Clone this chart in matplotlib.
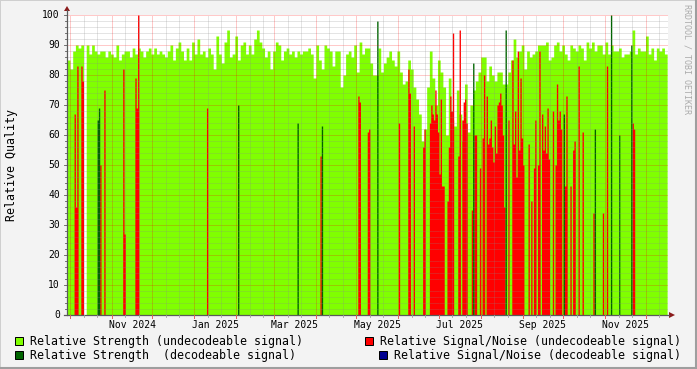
import numpy as np
import matplotlib
matplotlib.use("Agg")
import matplotlib.pyplot as plt
from matplotlib.lines import Line2D
from matplotlib.patches import Rectangle, Polygon

# ---------------------------------------------------------------- data ----
START = np.datetime64("2024-09-29")          # day 0 of the series

# relative strength, undecodeable signal: one value per 2-day bin (0 = no data)
strength = [
    85, 82, 88, 90, 89, 90, 0, 90, 87, 90, 88, 87, 88, 88, 86, 88, 87, 86, 90, 85,
    87, 88, 88, 86, 89, 87, 89, 88, 86, 88, 89, 87, 89, 87, 88, 87, 86,
    88, 90, 85, 89, 91, 88, 85, 89, 85, 91, 87, 92, 87, 88, 86, 89, 87, 82, 93, 87,
    84, 91, 95, 86, 87, 93, 85, 90, 91, 87, 90, 87, 92, 95, 91, 89, 86,
    88, 82, 88, 91, 90, 85, 88, 89, 87, 88, 86, 88, 87, 88, 88, 89, 87, 79, 90, 85,
    82, 90, 89, 88, 83, 88, 88, 76, 80, 87, 88, 86, 90, 81, 91, 87, 89,
    89, 84, 80, 80, 89, 81, 84, 86, 88, 85, 83, 88, 81, 77, 78, 85, 82, 76, 72, 67,
    58, 62, 76, 88, 79, 70, 85, 81, 76, 60, 79, 65, 63, 75, 67, 58, 77,
    61, 70, 75, 78, 81, 86, 86, 78, 83, 80, 78, 81, 81, 77, 77, 81, 85, 92, 86, 88,
    90, 82, 88, 86, 87, 88, 90, 90, 90, 91, 85, 86, 90, 91, 88, 90, 87,
    85, 90, 89, 88, 90, 89, 85, 91, 89, 91, 88, 90, 90, 87, 91, 87, 90, 88, 88, 89,
    86, 87, 87, 88, 95, 87, 89, 88, 88, 93, 87, 89, 85, 89, 88, 89, 87,
]

# relative signal/noise, undecodeable signal: (day, value)
snr_days = [5, 6, 7, 10, 11, 24, 27, 41, 42, 50, 51, 52, 103, 187, 215, 216, 222, 223,
            245, 252, 253, 256, 263, 264, 268, 269, 270, 271, 272, 273, 274, 275, 276,
            277, 278, 281, 282, 283, 284, 285, 289, 290, 292, 293, 294, 295, 299, 301,
            302, 305, 307, 308, 310, 311, 312, 313, 314, 315, 316, 317, 318, 319, 320,
            321, 322, 323, 326, 329, 330, 331, 332, 333, 334, 335, 336, 337, 341, 343,
            345, 346, 348, 349, 351, 352, 353, 354, 355, 356, 359, 361, 362, 363, 364,
            365, 368, 369, 372, 374, 375, 378, 381, 389, 396, 399, 418, 419]
snr_vals = [67, 36, 83, 83, 78, 50, 75, 82, 27, 79, 69, 100, 69, 53, 73, 71, 61, 62,
            64, 82, 74, 63, 56, 62, 64, 70, 67, 65, 75, 67, 61, 47, 72,
            43, 43, 38, 56, 73, 68, 94, 53, 95, 65, 71, 72, 64, 35, 60,
            60, 49, 59, 80, 73, 57, 59, 65, 56, 51, 63, 54, 70, 71, 74,
            70, 60, 36, 65, 85, 57, 68, 46, 88, 55, 79, 59, 50, 57, 38,
            49, 65, 50, 88, 67, 55, 63, 54, 69, 52, 68, 50, 77, 65, 68,
            62, 43, 73, 43, 55, 58, 83, 61, 34, 34, 83, 64, 62]

# relative strength, decodeable signal: (day, value)
dec_days = [22, 23, 126, 170, 188, 229, 300, 324, 367, 390, 402, 408, 417]
dec_vals = [65, 69, 70, 64, 63, 98, 84, 95, 67, 62, 100, 60, 90]

# relative signal/noise, decodeable signal: none in this period
dsnr_days, dsnr_vals = [], []

legend_items = [
    ("Relative Strength (undecodeable signal)", "#80FF00"),
    ("Relative Strength  (decodeable signal)", "#006400"),
    ("Relative Signal/Noise (undecodeable signal)", "#FF0000"),
    ("Relative Signal/Noise (decodeable signal)", "#000090"),
]

# ------------------------------------------------------------- layout ----
W, H = 697, 369
PX_DAY = 1.351                        # pixels per day
X0 = 67.3                             # pixel x of day 0
N_DAYS = 2 * len(strength)
fig = plt.figure(figsize=(W / 100, H / 100), dpi=100, facecolor="#F3F3F3")
MONO = "DejaVu Sans Mono"


def fx(x):
    return x / W


def fy(y):
    return 1 - y / H


def daily(days, vals):
    a = np.zeros(N_DAYS + 1)
    a[np.asarray(days, dtype=int)] = vals
    return a


ax = fig.add_axes([fx(67), fy(315), (668 - 67) / W, 300 / H])
ax.set_facecolor("white")
for s in ax.spines.values():
    s.set_visible(False)
ax.set_xlim((67 - X0) / PX_DAY, (668 - X0) / PX_DAY)
ax.set_ylim(0, 100)
ax.set_xticks([])
ax.set_yticks([])

# areas as step fills (no seams between columns)
days = np.arange(N_DAYS + 1)
g = np.append(np.repeat(strength, 2), 0)
ax.fill_between(days, 0, g, step="post", color="#80FF00", lw=0, antialiased=False, zorder=2)
ax.fill_between(days, 0, daily(snr_days, snr_vals), step="post", color="#FF0000", lw=0,
                antialiased=False, zorder=3)
ax.fill_between(days, 0, daily(dec_days, dec_vals), step="post", color="#006400", lw=0,
                antialiased=False, zorder=4)
if dsnr_days:
    ax.fill_between(days, 0, daily(dsnr_days, dsnr_vals), step="post", color="#000090",
                    lw=0, antialiased=False, zorder=4)

# grid (drawn on top, rrdtool style)
minor_c = (0.55, 0.55, 0.55, 0.45)
major_c = (1.0, 0.0, 0.0, 0.42)
for v in range(2, 100, 2):
    c = major_c if v % 10 == 0 else minor_c
    ax.axhline(v, color=c, lw=0.72, dashes=(1, 1), zorder=6)
ax.axhline(100, color=major_c, lw=0.72, dashes=(1, 1), zorder=6)

month_starts = []
for y, m in [(2024, 10), (2024, 11), (2024, 12)] + [(2025, k) for k in range(1, 13)]:
    d0 = int((np.datetime64(f"{y}-{m:02d}-01") - START).astype(int))
    month_starts.append(d0)
    ax.axvline(d0, color=major_c, lw=0.72, dashes=(1, 1), zorder=6)
    for off in (10, 20):
        ax.axvline(d0 + off, color=minor_c, lw=0.72, dashes=(1, 1), zorder=6)

# month labels, centred in the month
labels = [("Nov 2024", "2024-11"), ("Jan 2025", "2025-01"), ("Mar 2025", "2025-03"),
          ("May 2025", "2025-05"), ("Jul 2025", "2025-07"), ("Sep 2025", "2025-09"),
          ("Nov 2025", "2025-11")]
for txt, ym in labels:
    a = np.datetime64(ym + "-01")
    b = (np.datetime64(ym, "M") + 1).astype("datetime64[D]")
    mid = (a - START).astype(int) + (b - a).astype(int) / 2
    ax.text(mid, -3.3, txt, ha="center", va="center", fontsize=7, family=MONO,
            clip_on=False)

# y labels
for v in range(0, 101, 10):
    ax.text(-0.012, v, str(v), ha="right", va="center", fontsize=7, family=MONO,
            transform=ax.get_yaxis_transform())

# axes lines, ticks and arrows in pixel space
axis_c = "#5A5A5A"
arrow_c = "#8B1A1A"
fig.add_artist(Line2D([fx(67), fx(67)], [fy(315), fy(10)], color=axis_c, lw=0.9))
fig.add_artist(Line2D([fx(64), fx(669)], [fy(315), fy(315)], color=axis_c, lw=0.9))
fig.add_artist(Polygon([[fx(64), fy(11)], [fx(70), fy(11)], [fx(67), fy(6)]],
                       closed=True, color=arrow_c, lw=0))
fig.add_artist(Polygon([[fx(669), fy(312)], [fx(669), fy(318)], [fx(675), fy(315)]],
                       closed=True, color=arrow_c, lw=0))
for v in range(0, 101, 2):
    y = 315 - 3 * v
    ln = 3 if v % 10 == 0 else 2
    fig.add_artist(Line2D([fx(67 - ln), fx(67)], [fy(y), fy(y)], color=axis_c, lw=0.6))
for d0 in month_starts:
    x = X0 + d0 * PX_DAY
    if x < 668:
        fig.add_artist(Line2D([fx(x), fx(x)], [fy(315), fy(318)], color="#E06060", lw=0.7))
        for off in (10, 20):
            xm = X0 + (d0 + off) * PX_DAY
            if xm < 668:
                fig.add_artist(Line2D([fx(xm), fx(xm)], [fy(315), fy(317)],
                                      color="#A0A0A0", lw=0.6))

# titles / watermark
fig.text(fx(12), fy(165), "Relative Quality", rotation=90, ha="center", va="center",
         fontsize=8.4, family=MONO)
fig.text(fx(687), fy(4), "RRDTOOL / TOBI OETIKER", rotation=270, ha="center", va="top",
         fontsize=6, family=MONO, color="#ABABAB")

# legend
pos = [(15, 341, 30), (15, 355, 30), (365, 341, 380), (379, 355, 394)]
for (label, col), (sx, sy, tx) in zip(legend_items, pos):
    fig.add_artist(Rectangle((fx(sx), fy(sy + 4)), 8 / W, 8 / H, facecolor=col,
                             edgecolor="black", lw=0.72))
    fig.text(fx(tx), fy(sy), label, ha="left", va="center", fontsize=8.4, family=MONO)

# rrdtool style 3d frame
fig.add_artist(Rectangle((0, 0), 1, 1, fill=False, edgecolor="#CFCFCF", lw=1.4))
fig.add_artist(Line2D([fx(1), fx(696)], [fy(368), fy(368)], color="#9E9E9E", lw=1.5))
fig.add_artist(Line2D([fx(696), fx(696)], [fy(368), fy(1)], color="#9E9E9E", lw=1.5))

fig.savefig("out.png", dpi=100, facecolor=fig.get_facecolor())
